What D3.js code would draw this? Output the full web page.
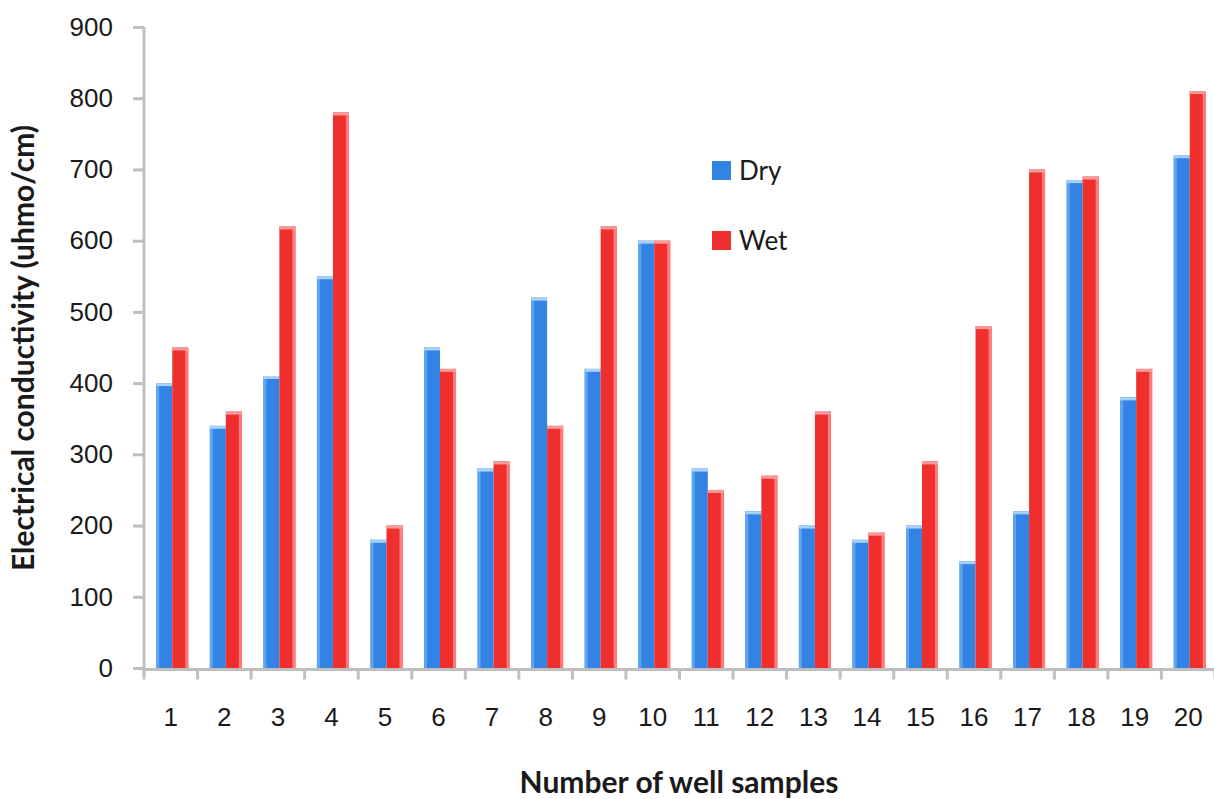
<!DOCTYPE html>
<html>
<head>
<meta charset="utf-8">
<script src="https://cdn.jsdelivr.net/npm/d3@7"></script>
<style>
  body { margin: 0; background: #fff; }
  svg { display: block; font-family: Lato, "Open Sans", sans-serif; }
  .axis path, .axis line { stroke: #bfbfbf; stroke-width: 3; }
  .axis text { fill: #1a1a1a; font-size: 26px; }
  .axis-title { fill: #1a1a1a; font-size: 30px; font-weight: bold; }
  .legend text { fill: #1a1a1a; font-size: 26px; }
</style>
</head>
<body>
<div id="chart"></div>
<script>
// well sample numbers
const samples = d3.range(1, 21).map(String);
// electrical conductivity, dry season
const dryValues = [400, 340, 410, 550, 180, 450, 280, 520, 420, 600,
                   280, 220, 200, 180, 200, 150, 220, 685, 380, 720];
// electrical conductivity, wet season
const wetValues = [450, 360, 620, 780, 200, 420, 290, 340, 620, 600,
                   250, 270, 360, 190, 290, 480, 700, 690, 420, 810];
const yTicks = d3.range(0, 901, 100);
const seriesNames = ['Dry', 'Wet'];

const width = 1214, height = 799;
const margin = { top: 27, right: -1, bottom: 131, left: 144 };
const plotW = width - margin.left - margin.right;
const plotH = height - margin.top - margin.bottom;

const colors = { Dry: '#3283e4', Wet: '#ee2f2d' };
const edgeColors = { Dry: '#5ea4f1', Wet: '#ff7b7b' };
const capColors = { Dry: '#a6d2f8', Wet: '#f79a9a' };

const data = samples.map((s, i) => ({
    sample: s,
    values: [
        { key: 'Dry', value: dryValues[i] },
        { key: 'Wet', value: wetValues[i] }
    ]
}));

const svg = d3.select('#chart')
    .append('svg')
    .attr('width', width)
    .attr('height', height);

const chart = svg.append('g')
    .attr('transform', `translate(${margin.left},${margin.top})`);

const xScale = d3.scaleBand()
    .domain(samples)
    .range([0, plotW]);

const xSub = d3.scaleBand()
    .domain(seriesNames)
    .range([0, xScale.bandwidth()])
    .paddingOuter(0.675)
    .align(0.57);

const yScale = d3.scaleLinear()
    .domain([0, 900])
    .range([plotH, 0]);

// bars
const groups = chart.selectAll('.group')
    .data(data)
    .enter()
    .append('g')
    .attr('class', 'group')
    .attr('transform', d => `translate(${xScale(d.sample)},0)`);

const bars = groups.selectAll('.bar')
    .data(d => d.values)
    .enter()
    .append('g')
    .attr('class', 'bar');

bars.append('rect')
    .attr('x', d => xSub(d.key))
    .attr('y', d => yScale(d.value))
    .attr('width', xSub.bandwidth())
    .attr('height', d => plotH - yScale(d.value))
    .attr('fill', d => colors[d.key]);

// light edge like the original soft shading
bars.append('rect')
    .attr('x', d => d.key === 'Dry' ? xSub(d.key) : xSub(d.key) + xSub.bandwidth() - 3)
    .attr('y', d => yScale(d.value))
    .attr('width', 3)
    .attr('height', d => plotH - yScale(d.value))
    .attr('fill', d => edgeColors[d.key]);

bars.append('rect')
    .attr('x', d => xSub(d.key))
    .attr('y', d => yScale(d.value))
    .attr('width', xSub.bandwidth())
    .attr('height', 3)
    .attr('fill', d => capColors[d.key]);

// y axis
const yAxis = d3.axisLeft(yScale)
    .tickValues(yTicks)
    .tickSize(11)
    .tickPadding(20)
    .tickSizeOuter(0);

const yAxisG = chart.append('g')
    .attr('class', 'axis y-axis')
    .call(yAxis);
yAxisG.select('.domain').attr('d', `M0,${yScale(900)}V${plotH + 2}`);

// x axis: labels centred, ticks between bands
const xAxis = d3.axisBottom(xScale)
    .tickSize(0)
    .tickPadding(38)
    .tickSizeOuter(0);

const xAxisG = chart.append('g')
    .attr('class', 'axis x-axis')
    .attr('transform', `translate(0,${plotH + 1.5})`)
    .call(xAxis);
xAxisG.select('.domain').attr('d', `M-2,0H${plotW}`);

xAxisG.selectAll('.sep')
    .data(samples.concat(['end']))
    .enter()
    .append('line')
    .attr('class', 'sep')
    .attr('x1', d => d === 'end' ? plotW : xScale(d))
    .attr('x2', d => d === 'end' ? plotW : xScale(d))
    .attr('y1', 0)
    .attr('y2', 10);

// axis titles
svg.append('text')
    .attr('class', 'axis-title')
    .attr('x', 679)
    .attr('y', 793)
    .attr('text-anchor', 'middle')
    .text('Number of well samples');

svg.append('text')
    .attr('class', 'axis-title')
    .attr('transform', 'translate(34,348) rotate(-90)')
    .attr('text-anchor', 'middle')
    .text('Electrical conductivity (uhmo/cm)');

// legend
const legend = svg.append('g')
    .attr('class', 'legend')
    .attr('transform', 'translate(712,161)');

const items = legend.selectAll('.item')
    .data(seriesNames)
    .enter()
    .append('g')
    .attr('class', 'item')
    .attr('transform', (d, i) => `translate(0,${i * 70})`);

items.append('rect')
    .attr('width', 19)
    .attr('height', 19)
    .attr('fill', d => colors[d]);

items.append('text')
    .attr('x', 27)
    .attr('y', 19)
    .text(d => d);
</script>
</body>
</html>
